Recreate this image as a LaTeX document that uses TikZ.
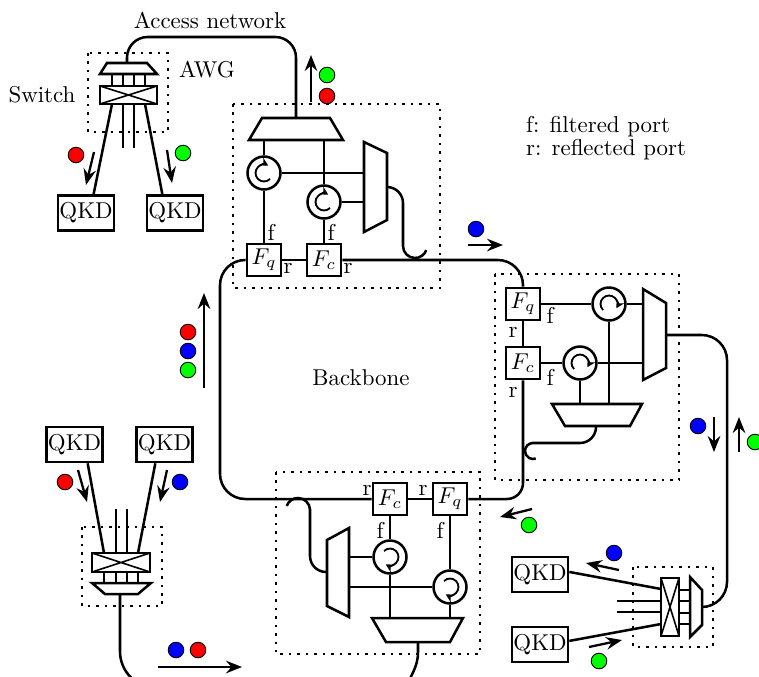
\documentclass[tikz,border=0pt]{standalone}
\usepackage{tikz}
\usetikzlibrary{arrows.meta}

\begin{document}
\begin{tikzpicture}[x=0.4366pt, y=0.4366pt,
        fiber/.style={line width=1.1pt},
        site/.style={line width=1.2pt, dash pattern=on 1.1pt off 2.6pt},
        filt/.style={draw, line width=1.1pt, fill=white, minimum width=15pt, minimum height=14pt, inner sep=0pt},
        qkd/.style={draw, line width=1.1pt, fill=white, minimum width=24.5pt, minimum height=15.3pt, inner sep=0pt},
        circ/.style={draw, circle, line width=1.1pt, fill=white, minimum size=14.4pt, inner sep=0pt,
            path picture={\draw[line width=0.8pt, -{Stealth[length=3.6pt,width=3.8pt]}] (path picture bounding box.center) ++(#1:3.7pt) arc[start angle=#1, delta angle=-255, radius=3.7pt];}},
        dot/.style={circle, draw, line width=0.4pt, minimum size=6.8pt, inner sep=0pt},
        flow/.style={line width=1pt, -{Stealth[length=7pt,width=5.5pt,inset=2.4pt]}},
        port/.style={inner sep=1pt}]
        \useasboundingbox (0,0) rectangle (759,-676);

        % Sites
        \draw[site] (88,-53) rectangle (168,-132);
        \draw[site] (233,-104) rectangle (440,-288);
        \draw[site] (495,-274) rectangle (679,-480);
        \draw[site] (276,-472) rectangle (480,-654);
        \draw[site] (82,-527) rectangle (162,-606);
        \draw[site] (633,-567) rectangle (713,-647);

        % Filters on the backbone
        \node[filt] (fqA) at (264,-260) {$F_q$};
        \node[filt] (fcA) at (324,-260) {$F_c$};
        \node[filt] (fqB) at (523,-304) {$F_q$};
        \node[filt] (fcB) at (523,-363) {$F_c$};
        \node[filt] (fcC) at (390,-499) {$F_c$};
        \node[filt] (fqC) at (450,-499) {$F_q$};

        % Backbone
        \coordinate (ringTL) at (220,-260);
        \coordinate (ringBL) at (220,-499);
        \coordinate (ringBR) at (523,-499);
        \coordinate (ringTR) at (523,-260);
        \draw[fiber, rounded corners=11pt] (fqA.west) -- (ringTL) -- (ringBL) -- (fcC.west);
        \draw[fiber] (fcC) -- (fqC);
        \draw[fiber, rounded corners=7pt] (fqC.east) -- (ringBR) -- (fcB.south);
        \draw[fiber] (fcB) -- (fqB);
        \draw[fiber, rounded corners=11pt] (fqB.north) -- (ringTR) -- (fcA.east);
        \draw[fiber] (fcA) -- (fqA);
        \node (tBack) at (361,-378) {Backbone};

        % Node A
        \draw[fiber, fill=white] (249,-140) -- (262,-118) -- (330,-118) -- (343,-140) -- cycle;
        \coordinate (dmAin) at (296,-118);
        \coordinate (dmA1) at (264,-140);
        \coordinate (dmA2) at (324,-140);
        \draw[fiber, fill=white] (364,-142) -- (387,-153) -- (387,-220) -- (364,-232) -- cycle;
        \coordinate (mxA1) at (364,-173);
        \coordinate (mxA2) at (364,-202);
        \coordinate (mxAout) at (387,-187);
        \node[circ=-45] (cA1) at (264,-173) {};
        \node[circ=-45] (cA2) at (324,-202) {};
        \draw[fiber] (dmA1) -- (cA1) -- (fqA);
        \draw[fiber] (dmA2) -- (cA2) -- (fcA);
        \draw[fiber] (cA1) -- (mxA1);
        \draw[fiber] (cA2) -- (mxA2);
        \draw[fiber, rounded corners=7pt] (mxAout) -| (403,-230) [sharp corners] -- (403,-246) arc[start angle=180, end angle=340, radius=12];
        \node[port] (lfA1) at (271,-232) {f};
        \node[port] (lfA2) at (331,-232) {f};
        \node[port] (lrA1) at (288,-268) {r};
        \node[port] (lrA2) at (348,-268) {r};
        \draw[flow] (311,-102) -- (311,-55);
        \node[dot, fill=green] (pA1) at (327,-75) {};
        \node[dot, fill=red] (pA2) at (327,-96) {};

        % Access network
        \draw[fiber, fill=white] (100,-74) -- (107,-63) -- (147,-63) -- (157,-74) -- cycle;
        \coordinate (awgTop) at (127,-63);
        \foreach \x in {112,123,134,145}
            \draw[fiber] (\x,-74) -- (\x,-86);
        \draw[fiber, fill=white] (100,-86) rectangle (157,-104);
        \draw[line width=0.7pt] (100,-86) -- (157,-104) (100,-104) -- (157,-86);
        \coordinate (swAa) at (112,-104);
        \coordinate (swAb) at (145,-104);
        \draw[fiber] (123,-104) -- (123,-148);
        \draw[fiber] (134,-104) -- (134,-148);
        \node[qkd] (qkd1) at (86,-213) {QKD};
        \node[qkd] (qkd2) at (175,-213) {QKD};
        \draw[fiber] (swAa) -- (qkd1.68);
        \draw[fiber] (swAb) -- (qkd2.124);
        \draw[fiber, rounded corners=9pt] (awgTop) |- (296,-37) -- (dmAin);
        \node (tAcc) at (210,-20) {Access network};
        \node (tSw) at (42,-95) {Switch};
        \node (tAWG) at (207,-70) {AWG};
        \node[dot, fill=red] (pT1) at (76,-155) {};
        \node[dot, fill=green] (pT2) at (183,-153) {};
        \draw[flow] (94,-152) -- (86,-185);
        \draw[flow] (167,-150) -- (172,-183);

        % Legend
        \node[anchor=west] (lg1) at (518,-127) {f: filtered port};
        \node[anchor=west] (lg2) at (518,-150) {r: reflected port};
        \node[dot, fill=blue] (pAB) at (476,-229) {};
        \draw[flow] (468,-245) -- (503,-245);

        % Left side
        \draw[flow] (204,-388) -- (204,-293);
        \node[dot, fill=red] (pL1) at (188,-332) {};
        \node[dot, fill=blue] (pL2) at (188,-351) {};
        \node[dot, fill=green] (pL3) at (188,-370) {};

        % Node B
        \draw[fiber, fill=white] (643,-289) -- (666,-303) -- (666,-368) -- (643,-380) -- cycle;
        \coordinate (mxB1) at (643,-304);
        \coordinate (mxB2) at (643,-363);
        \coordinate (mxBout) at (666,-335);
        \draw[fiber, fill=white] (552,-404) -- (642,-404) -- (630,-426) -- (565,-426) -- cycle;
        \coordinate (dmB1) at (609,-404);
        \coordinate (dmB2) at (580,-404);
        \coordinate (dmBout) at (596,-426);
        \node[circ=225] (cB1) at (609,-304) {};
        \node[circ=225] (cB2) at (580,-363) {};
        \draw[fiber] (fqB) -- (cB1) -- (mxB1);
        \draw[fiber] (fcB) -- (cB2) -- (mxB2);
        \draw[fiber] (cB1) -- (dmB1);
        \draw[fiber] (cB2) -- (dmB2);
        \draw[fiber, rounded corners=7pt] (dmBout) |- (548,-443) [sharp corners] -- (533,-443) arc[start angle=90, end angle=290, radius=8];
        \node[port] (lrB1) at (513,-332) {r};
        \node[port] (lrB2) at (513,-392) {r};
        \node[port] (lfB1) at (550,-315) {f};
        \node[port] (lfB2) at (550,-377) {f};
        \node[dot, fill=blue] (pR1) at (698,-426) {};
        \node[dot, fill=green] (pR2) at (755,-442) {};
        \draw[flow] (714,-417) -- (714,-452);
        \draw[flow] (739,-452) -- (739,-417);

        % Node C
        \draw[fiber, fill=white] (327,-540) -- (349,-528) -- (349,-617) -- (327,-606) -- cycle;
        \coordinate (mxC1) at (349,-557);
        \coordinate (mxC2) at (349,-587);
        \coordinate (mxCout) at (327,-572);
        \draw[fiber, fill=white] (372,-618) -- (463,-618) -- (450,-642) -- (386,-642) -- cycle;
        \coordinate (dmC1) at (390,-618);
        \coordinate (dmC2) at (450,-618);
        \coordinate (dmCout) at (418,-642);
        \node[circ=135] (cC1) at (390,-557) {};
        \node[circ=135] (cC2) at (450,-587) {};
        \draw[fiber] (fcC) -- (cC1) -- (dmC1);
        \draw[fiber] (fqC) -- (cC2) -- (dmC2);
        \draw[fiber] (cC1) -- (mxC1);
        \draw[fiber] (cC2) -- (mxC2);
        \draw[fiber, rounded corners=7pt] (mxCout) -| (310,-525) [sharp corners] -- (310,-510) arc[start angle=0, end angle=160, radius=12];
        \draw[fiber] (dmCout) -- (418,-652) to[out=-90, in=70] (405,-690);
        \node[port] (lfC1) at (380,-530) {f};
        \node[port] (lfC2) at (440,-530) {f};
        \node[port] (lrC1) at (367,-490) {r};
        \node[port] (lrC2) at (423,-490) {r};
        \node[dot, fill=green] (pC1) at (529,-525) {};
        \draw[flow] (532,-509) -- (500,-517);

        % Users on node C side
        \node[qkd] (qkd3) at (74.5,-444.5) {QKD};
        \node[qkd] (qkd4) at (164.5,-444.5) {QKD};
        \draw[fiber, fill=white] (92,-553) rectangle (150,-572);
        \draw[line width=0.7pt] (92,-553) -- (150,-572) (92,-572) -- (150,-553);
        \coordinate (swBa) at (104,-553);
        \coordinate (swBb) at (138,-553);
        \draw[fiber] (qkd3.-55) -- (swBa);
        \draw[fiber] (qkd4.-116) -- (swBb);
        \draw[fiber] (116,-509) -- (116,-553);
        \draw[fiber] (127,-509) -- (127,-553);
        \foreach \x in {104,116,127,138}
            \draw[fiber] (\x,-572) -- (\x,-583);
        \draw[fiber, fill=white] (92,-583) -- (151,-583) -- (138,-594) -- (105,-594) -- cycle;
        \coordinate (mxEout) at (120,-594);
        \draw[fiber, rounded corners=16pt] (mxEout) |- (170,-688);
        \node[dot, fill=red] (pE1) at (65,-482) {};
        \node[dot, fill=blue] (pE2) at (180,-482) {};
        \draw[flow] (78,-470) -- (87,-502);
        \draw[flow] (167,-470) -- (160,-502);
        \node[dot, fill=blue] (pE3) at (176,-650) {};
        \node[dot, fill=red] (pE4) at (198,-650) {};
        \draw[flow] (158,-667) -- (242,-667);

        % Users on node B side
        \node[qkd] (qkd5) at (540,-574.5) {QKD};
        \node[qkd] (qkd6) at (540,-644.5) {QKD};
        \draw[fiber, fill=white] (661,-578) rectangle (679,-636);
        \draw[line width=0.7pt] (661,-578) -- (679,-636) (661,-636) -- (679,-578);
        \foreach \y in {590,601,613,624}
            \draw[fiber] (679,-\y) -- (690,-\y);
        \draw[fiber, fill=white] (690,-577) -- (702,-590) -- (702,-625) -- (690,-637) -- cycle;
        \coordinate (mxDout) at (702,-607);
        \coordinate (swDa) at (661,-589);
        \coordinate (swDb) at (661,-624);
        \draw[fiber] (qkd5.5) -- (swDa);
        \draw[fiber] (qkd6.7) -- (swDb);
        \draw[fiber] (617,-601) -- (661,-601);
        \draw[fiber] (617,-612) -- (661,-612);
        \draw[fiber, rounded corners=11pt] (mxBout) -| (727,-607) -- (mxDout);
        \node[dot, fill=blue] (pD1) at (614,-553) {};
        \node[dot, fill=green] (pD2) at (599,-661) {};
        \draw[flow] (619,-570) -- (586,-563);
        \draw[flow] (589,-647) -- (622,-640);

    \end{tikzpicture}
\end{document}
